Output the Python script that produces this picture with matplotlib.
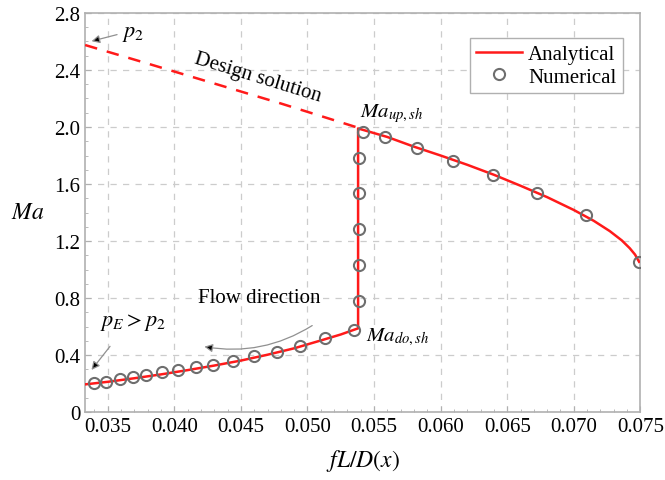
import numpy as np
import matplotlib
matplotlib.use("Agg")
import matplotlib.pyplot as plt

plt.rcParams['font.family'] = ['Liberation Serif', 'DejaVu Serif']
plt.rcParams['mathtext.fontset'] = 'stix'

# analytical solution: subsonic branch, shock, supersonic branch
x_sub = [0.0333, 0.0350, 0.0370, 0.0390, 0.0410, 0.0430, 0.0450, 0.0470, 0.0490, 0.0510, 0.0525, 0.0538]
ma_sub = [0.195, 0.213, 0.238, 0.265, 0.295, 0.327, 0.362, 0.403, 0.448, 0.503, 0.545, 0.588]
x_sup = [0.0538, 0.0560, 0.0580, 0.0600, 0.0620, 0.0640, 0.0660, 0.0680, 0.0700, 0.0715,
         0.0727, 0.0736, 0.0742, 0.0746, 0.0749]
ma_sup = [1.990, 1.930, 1.862, 1.800, 1.735, 1.665, 1.588, 1.508, 1.418, 1.342,
          1.270, 1.205, 1.150, 1.105, 1.055]

# design solution (dashed)
x_design = [0.0333, 0.0380, 0.0430, 0.0480, 0.0538]
ma_design = [2.575, 2.445, 2.305, 2.165, 1.995]

# numerical solution
x_num = [0.03397, 0.0349, 0.0359, 0.0369, 0.0379, 0.0391, 0.0403, 0.0416, 0.0429, 0.0444,
         0.0460, 0.0477, 0.0494, 0.0513, 0.0535,
         0.0539, 0.0539, 0.0539, 0.0539, 0.0539,
         0.0542, 0.0558, 0.0582, 0.0609, 0.0639, 0.0672, 0.0709, 0.0749]
ma_num = [0.208, 0.215, 0.232, 0.244, 0.260, 0.279, 0.295, 0.314, 0.332, 0.360,
          0.391, 0.423, 0.465, 0.517, 0.578,
          0.779, 1.032, 1.285, 1.537, 1.783,
          1.965, 1.930, 1.853, 1.762, 1.664, 1.537, 1.383, 1.053]

x_ticks = [0.035, 0.040, 0.045, 0.050, 0.055, 0.060, 0.065, 0.070, 0.075]
y_ticks = [0, 0.4, 0.8, 1.2, 1.6, 2.0, 2.4, 2.8]
y_ticklabels = ['0', '0.4', '0.8', '1.2', '1.6', '2.0', '2.4', '2.8']

red = '#ff1a1a'
gray = '#b0b0b0'

fig = plt.figure(figsize=(6.65, 4.81), dpi=100)
ax = fig.add_axes([0.128, 0.141, 0.835, 0.830])

x_line = x_sub + x_sup
ma_line = ma_sub + ma_sup
ax.plot(x_line, ma_line, color=red, lw=1.8, label='Analytical', zorder=3)
ax.plot(x_design, ma_design, color=red, lw=1.8, ls=(0, (5, 4)), zorder=3)
ax.plot(x_num, ma_num, 'o', ms=8, mfc='none', mec='#6e6e6e', mew=1.5,
        label='Numerical', zorder=4)

ax.set_xlim(0.0333, 0.075)
ax.set_ylim(0, 2.8)
ax.set_xticks(x_ticks)
ax.set_xticklabels(['%.3f' % v for v in x_ticks])
ax.set_yticks(y_ticks)
ax.set_yticklabels(y_ticklabels)
ax.set_xticks(np.arange(0.034, 0.0751, 0.001), minor=True)
ax.set_yticks(np.arange(0, 2.81, 0.1), minor=True)
ax.tick_params(which='both', direction='in', color=gray, labelsize=15)
ax.tick_params(which='major', length=4)
ax.tick_params(which='minor', length=2.5)
for s in ax.spines.values():
    s.set_color(gray)
    s.set_linewidth(1.2)
ax.grid(True, which='major', color='#cccccc', ls=(0, (5, 5)), lw=0.9)

ax.set_xlabel('$fL/D(x)$', fontsize=17, labelpad=8)
ax.set_ylabel('$Ma$', fontsize=17, rotation=0, labelpad=19, va='center')

leg = ax.legend(loc='upper right', bbox_to_anchor=(0.968, 0.937), borderaxespad=0,
                fontsize=15, fancybox=False, edgecolor=gray, framealpha=1,
                handlelength=2.2, handletextpad=0.3, borderpad=0.3, labelspacing=0.15)
leg.get_frame().set_linewidth(1.0)

arrow = dict(arrowstyle='-|>', ec='#909090', fc='black', lw=0.9, mutation_scale=12)
ax.annotate('', xy=(0.03358, 2.597), xytext=(0.0359, 2.653), arrowprops=arrow)
ax.text(0.0361, 2.653, '$p_2$', fontsize=16, va='center', ha='left')
ax.text(0.04625, 2.351, 'Design solution', fontsize=15, rotation=-17,
        ha='center', va='center')
ax.text(0.05397, 2.077, '$Ma_{up,sh}$', fontsize=15, ha='left', va='baseline')
ax.text(0.05443, 0.533, '$Ma_{do,sh}$', fontsize=15, ha='left', va='center')
ax.text(0.0464, 0.807, 'Flow direction', fontsize=15, ha='center', va='center')
ax.annotate('', xy=(0.04205, 0.463), xytext=(0.05053, 0.618),
            arrowprops=dict(arrow, connectionstyle='arc3,rad=-0.2'))
ax.text(0.0344, 0.639, '$p_E > p_2$', fontsize=16, ha='left', va='center')
ax.annotate('', xy=(0.03365, 0.281), xytext=(0.0353, 0.477), arrowprops=arrow)

fig.savefig('out.png', dpi=100)
